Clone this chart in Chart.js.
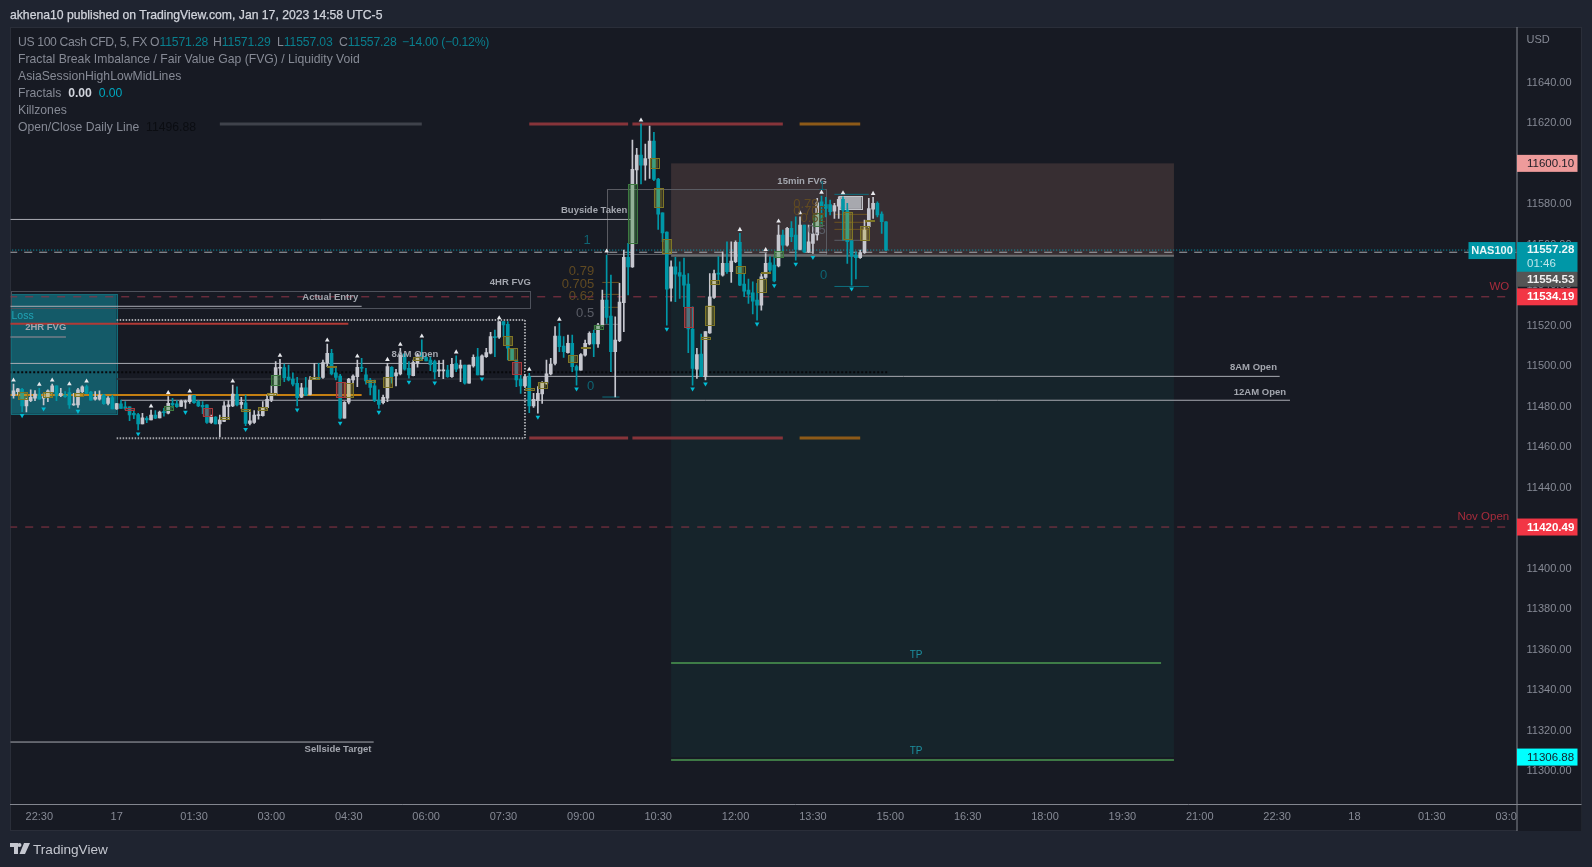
<!DOCTYPE html>
<html><head><meta charset="utf-8"><title>US 100 Cash CFD</title>
<script src="https://cdn.jsdelivr.net/npm/chart.js@4"></script>
<style>
html,body{margin:0;padding:0;width:1592px;height:867px;overflow:hidden;background:#1f2430}
canvas{position:absolute;left:0;top:0}
.t{position:absolute;white-space:pre;font-family:'Liberation Sans',sans-serif;font-size:12.2px;color:#868a95;line-height:16px}
#head{left:10px;top:7px;font-size:12.2px;color:#d1d4dc;-webkit-text-stroke:.25px #d1d4dc}
#brand{left:33px;top:841px;font-size:13.6px;color:#c4c7cf;line-height:17px}
.v{color:#097f8e;letter-spacing:-.15px}
</style></head><body>
<canvas id="c" width="1592" height="867"></canvas>
<div class="t" id="head">akhena10 published on TradingView.com, Jan 17, 2023 14:58 UTC-5</div>
<div class="t" style="left:18px;top:34px;letter-spacing:-.35px">US 100 Cash CFD, 5, FX</div>
<div class="t" style="left:150px;top:34px">O<span class="v">11571.28</span></div>
<div class="t" style="left:213px;top:34px">H<span class="v">11571.29</span></div>
<div class="t" style="left:277px;top:34px">L<span class="v">11557.03</span></div>
<div class="t" style="left:339px;top:34px">C<span class="v">11557.28</span></div>
<div class="t" style="left:402px;top:34px"><span class="v" style="letter-spacing:-.25px">−14.00 (−0.12%)</span></div>
<div class="t" style="left:18px;top:51px">Fractal Break Imbalance / Fair Value Gap (FVG) / Liquidity Void</div>
<div class="t" style="left:18px;top:68px">AsiaSessionHighLowMidLines</div>
<div class="t" style="left:18px;top:85px">Fractals  <span style="color:#d1d4dc;font-weight:bold">0.00</span>  <span style="color:#00a6bd">0.00</span></div>
<div class="t" style="left:18px;top:102px">Killzones</div>
<div class="t" style="left:18px;top:119px">Open/Close Daily Line  <span style="color:#0b0d12">11496.88</span></div>
<svg style="position:absolute;left:10px;top:843px" width="20" height="11" viewBox="0 0 20 11"><path fill="#c4c7cf" d="M0 0h8v11H4V4H0zM9.5 0a2 2 0 1 1 0 4a2 2 0 1 1 0-4zM14 0h6l-5 11H9.5z"/></svg>
<div class="t" id="brand">TradingView</div>
<script>
const firstBar = -24;
const opens = [11485.4,11487.3,11488.5,11480.3,11482.9,11484.1,11486.2,11484.1,11484.5,11487.2,
11490.2,11485.4,11485.7,11486.9,11480.8,11480.8,11487.4,11489.8,11487.2,11483.6,
11483.7,11485.7,11481.6,11484.4,11478.8,11481.3,11479.9,11479.9,11476.7,11476.0,
11471.4,11474.2,11473.4,11475.8,11474.4,11477.5,11476.7,11481.6,11481.3,11480.1,
11482.1,11482.4,11485.4,11482.4,11480.6,11480.8,11472.2,11474.8,11471.4,11472.7,
11479.9,11480.3,11486.0,11481.1,11481.8,11471.7,11472.2,11475.5,11475.5,11479.4,
11483.2,11486.2,11498.9,11499.2,11494.6,11493.6,11491.5,11484.6,11489.2,11486.0,
11493.9,11494.3,11494.4,11501.7,11506.3,11496.7,11495.1,11474.2,11482.1,11493.1,
11494.8,11499.4,11495.6,11493.1,11490.2,11482.9,11481.9,11484.1,11499.4,11495.1,
11496.1,11506.0,11498.9,11495.3,11501.3,11506.0,11504.3,11503.0,11502.2,11497.6,
11497.6,11498.0,11494.8,11501.2,11498.9,11500.5,11491.5,11500.0,11504.6,11495.6,
11504.6,11506.3,11514.2,11514.2,11521.9,11520.6,11508.8,11503.0,11493.6,11490.2,
11494.8,11480.3,11482.9,11486.2,11491.5,11496.1,11501.3,11514.8,11509.9,11506.6,
11511.2,11499.7,11498.0,11505.4,11510.9,11516.1,11510.9,11520.2,11532.6,11524.7,
11507.1,11512.5,11531.3,11553.7,11549.0,11596.8,11604.2,11599.2,11602.5,11611.1,
11592.3,11575.7,11566.2,11538.5,11549.0,11546.1,11544.9,11540.5,11518.3,11498.5,
11505.9,11494.7,11516.4,11533.9,11545.7,11544.9,11550.7,11546.6,11551.5,11561.1,
11540.5,11537.5,11536.2,11532.6,11530.1,11543.8,11551.0,11549.9,11549.4,11564.7,
11559.7,11568.0,11564.7,11557.6,11569.6,11556.4,11560.6,11564.7,11581.1,11579.8,
11579.8,11576.5,11579.0,11582.3,11577.0,11561.9,11554.8,11553.5,11556.0,11568.8,
11577.5,11580.3,11575.0,11571.28];
const closes = [11487.7,11488.7,11480.3,11483.2,11484.5,11486.2,11483.7,11484.9,11487.7,11490.2,
11485.2,11486.5,11484.9,11480.8,11481.1,11488.2,11489.7,11486.5,11483.2,11484.5,
11485.7,11481.4,11484.2,11478.8,11481.4,11479.1,11479.1,11475.8,11475.8,11471.4,
11474.4,11473.4,11475.8,11474.2,11477.3,11477.0,11481.6,11480.8,11479.9,11482.6,
11482.4,11485.4,11481.9,11480.3,11479.8,11472.2,11474.8,11471.4,11473.4,11480.3,
11480.9,11486.2,11480.8,11482.1,11471.7,11472.9,11475.8,11476.0,11479.6,11483.6,
11486.5,11499.2,11499.0,11494.3,11493.1,11491.1,11484.4,11489.2,11485.5,11493.1,
11494.4,11493.8,11501.7,11506.3,11496.1,11494.4,11474.2,11482.1,11493.6,11495.1,
11499.4,11498.9,11492.6,11489.5,11482.9,11481.1,11484.5,11499.7,11494.8,11496.7,
11505.5,11498.4,11495.6,11501.7,11505.5,11503.8,11502.5,11500.7,11497.1,11497.9,
11497.7,11494.8,11500.9,11498.4,11500.5,11491.5,11500.5,11504.3,11495.6,11505.0,
11506.6,11514.5,11514.0,11521.9,11520.3,11508.8,11503.0,11493.1,11490.2,11494.8,
11480.3,11483.6,11486.5,11491.5,11496.1,11501.0,11514.8,11509.6,11507.1,11511.2,
11499.7,11498.0,11505.7,11511.2,11516.1,11510.9,11520.2,11532.6,11524.0,11507.1,
11512.8,11531.6,11553.7,11549.0,11597.1,11604.2,11599.2,11602.5,11611.1,11592.2,
11575.0,11565.8,11538.0,11549.0,11545.4,11544.4,11540.0,11518.3,11498.8,11505.7,
11494.7,11517.0,11534.2,11545.7,11545.4,11550.7,11546.6,11551.8,11561.1,11540.0,
11537.0,11535.5,11532.1,11530.1,11544.1,11550.7,11547.4,11542.1,11564.7,11559.7,
11568.0,11563.9,11557.6,11569.6,11556.4,11561.4,11565.2,11580.6,11579.0,11577.8,
11576.2,11579.3,11582.3,11577.0,11561.4,11554.3,11553.5,11556.0,11567.2,11577.8,
11580.3,11574.6,11571.3,11557.28];
const highs = [11491.1,11489.0,11489.0,11484.0,11488.2,11487.9,11489.0,11486.5,11488.2,11491.1,
11490.2,11489.0,11487.4,11489.3,11486.5,11489.0,11490.2,11490.6,11487.5,11487.4,
11487.7,11486.0,11484.9,11485.7,11481.6,11483.2,11482.4,11479.9,11478.3,11476.7,
11476.7,11475.0,11478.3,11478.0,11477.8,11479.1,11484.9,11484.1,11482.9,11483.2,
11483.2,11485.7,11485.5,11482.9,11482.4,11480.8,11475.8,11475.0,11475.8,11482.4,
11482.9,11490.6,11489.7,11484.6,11485.7,11478.6,11478.0,11478.0,11482.4,11485.7,
11490.2,11502.2,11503.3,11501.0,11500.5,11496.7,11494.4,11491.5,11494.4,11494.8,
11501.3,11501.3,11503.0,11510.9,11508.3,11498.9,11495.9,11482.4,11493.9,11495.6,
11503.0,11503.8,11498.9,11493.9,11493.1,11488.2,11485.7,11501.3,11499.7,11498.4,
11508.8,11506.0,11502.2,11503.0,11506.3,11512.9,11505.5,11504.6,11503.0,11502.7,
11503.0,11500.4,11503.8,11505.0,11503.0,11500.5,11500.5,11505.5,11508.8,11505.5,
11508.8,11516.7,11517.8,11521.9,11521.9,11521.9,11508.8,11503.0,11495.6,11495.6,
11496.4,11486.5,11489.8,11492.3,11503.0,11503.8,11519.5,11521.1,11514.5,11515.3,
11515.3,11500.5,11506.2,11512.8,11516.9,11517.8,11521.1,11537.5,11554.8,11544.9,
11524.3,11540.8,11557.3,11560.6,11611.6,11607.5,11619.5,11609.6,11618.5,11615.4,
11592.7,11575.7,11566.3,11552.0,11553.7,11551.5,11553.3,11545.7,11529.3,11508.7,
11515.8,11517.0,11545.7,11547.4,11554.0,11556.4,11561.4,11561.4,11561.9,11565.5,
11545.7,11543.0,11541.6,11540.8,11545.7,11555.6,11554.0,11554.0,11569.6,11567.1,
11568.5,11571.3,11573.7,11573.7,11569.6,11569.6,11570.4,11582.8,11583.9,11583.3,
11582.0,11580.3,11583.6,11583.6,11580.3,11561.9,11556.4,11557.3,11572.1,11582.8,
11583.3,11581.1,11576.2,11571.29];
const lows = [11484.1,11485.7,11477.5,11477.3,11482.4,11482.9,11483.6,11480.8,11482.4,11486.5,
11482.9,11484.9,11484.5,11479.1,11480.6,11479.6,11486.5,11486.5,11483.2,11483.2,
11483.2,11481.1,11480.8,11478.8,11478.6,11479.1,11478.3,11473.0,11474.0,11468.4,
11471.4,11472.0,11473.4,11474.0,11474.4,11475.3,11476.3,11479.6,11479.6,11479.9,
11479.1,11481.6,11481.6,11479.9,11476.5,11471.7,11471.7,11471.4,11465.0,11472.5,
11473.7,11479.9,11480.3,11479.1,11470.6,11470.9,11471.7,11473.7,11475.3,11479.1,
11482.4,11485.7,11495.6,11492.3,11492.6,11490.2,11480.3,11484.4,11485.5,11485.7,
11493.8,11493.8,11493.9,11499.7,11495.6,11493.1,11473.7,11474.2,11481.3,11491.5,
11489.8,11497.2,11491.1,11485.7,11482.4,11479.1,11481.3,11482.4,11491.5,11490.2,
11495.6,11498.0,11494.0,11495.1,11499.4,11503.0,11502.5,11497.7,11493.6,11494.8,
11493.8,11494.4,11494.4,11497.2,11492.3,11491.1,11491.5,11499.4,11495.6,11495.6,
11504.3,11506.0,11504.6,11513.7,11514.5,11503.0,11503.0,11489.8,11486.5,11489.5,
11477.0,11479.6,11476.7,11481.6,11491.1,11495.6,11500.5,11507.1,11504.3,11506.3,
11497.2,11490.6,11498.0,11504.9,11510.4,11504.6,11509.2,11519.7,11521.1,11497.2,
11484.8,11512.0,11517.0,11535.1,11548.7,11589.9,11589.9,11591.8,11592.7,11591.5,
11567.5,11561.4,11520.2,11532.1,11531.8,11533.4,11529.3,11506.6,11490.6,11493.9,
11494.7,11493.1,11516.1,11533.4,11542.5,11544.4,11545.7,11541.3,11551.0,11539.7,
11534.2,11530.9,11525.7,11522.7,11527.6,11543.3,11545.7,11541.6,11549.0,11556.4,
11559.2,11561.4,11552.3,11557.3,11556.0,11556.0,11555.6,11562.2,11570.4,11573.7,
11574.6,11572.9,11572.9,11562.2,11550.7,11540.0,11543.0,11553.2,11555.6,11568.5,
11572.9,11573.7,11565.5,11557.03];

const fractalUpBars = [-24,-18,-15,-11,-7,8,12,17,27,38,49,56,63,66,71,79,89,96,103,114,122,145,151,154,159,164,169,176];
const fractalDownBars = [-22,-17,-9,5,16,30,42,52,61,68,74,85,98,107,128,134,137,149,153,158,162,171];

const tickBars = [-18,0,18,36,54,72,90,108,126,144,162,180,198,216,234,252,270,288,306,324];
const tickLabels = ["22:30","17","01:30","03:00","04:30","06:00","07:30","09:00","10:30","12:00","13:30","15:00","16:30","18:00","19:30","21:00","22:30","18","01:30","03:00"];

const levelNames = ["wo","wo","last","mark","white","grey","red2","white","white","white","daily","asiaMid","orange","white","white","tp","tp","entryLine",
 "asiaEdge","asiaEdge",
 "killGrey","killRed","killRed","killOrange","killRed","killRed","killOrange",
 "fibBrown","fibBrown","fibBrown","fibGrey","fibTeal","fibBrown","fibBrown","fibBrown","fibGrey","fibTeal","fibTeal"];
const levelStart = [-25,-25,-25,-25,-25,-25,-25,-25,95.5,1,-25,0,-25,-25,-25,129,129,129,
 0,0,
 24,96,120,158.9,96,120,158.9,
 113,113,113,113,113,167,167,167,167,167,167];
const levelEnd = [324.5,324.5,326,326,57,-11.8,53.9,76,270.6,273,179.5,95,57,120,59.8,243,246,246,
 95,95,
 71,119,155,173,119,155,173,
 117,117,117,117,117,175,175,175,175,175,175];
const levelPrice = [11534.19,11420.49,11557.28,11556.2,11529.5,11514.3,11520.9,11501.3,11494.9,11483.1,11496.88,11493.6,11485.7,11572.4,11314.3,11353.3,11305.4,11554.5,
 11522.7,11464.3,
 11619.5,11619.5,11619.5,11619.5,11464.4,11464.4,11464.4,
 11541.3,11535.4,11529.0,11520.6,11484.7,11574.9,11571.0,11567.5,11562.1,11584.8,11539.3];

// [first bar, last bar, upper price, lower price]
const stopBox = [-24.7,0,11535.6,11476.4];
const entryBox = [-24.7,96.1,11536.9,11528.5];
const asiaClose = [95,11522.7,11464.3];
const riskBox = [129,246,11600.1,11554.53];
const rewardBox = [129,246,11554.53,11306.88];
const fibBox = [114,165,11587.2,11555.3];
const whiteBox = [168,173.3,11584,11577.6];
const yellowBoxes = [[-22.9,-20.9,11487.0,11483.5],[-17.1,-14.9,11487.0,11484.7],[-9.9,-7.9,11486.5,11484.9],[24,26,11474.8,11474.0],[28.9,31,11478.6,11477.8],[33,35,11479.6,11478.0],[35,37,11486.5,11485.3],
 [45,47,11494.4,11493.6],[49,51,11500.0,11499.3],[53,55,11491.4,11484.4],[58,60,11492.9,11491.8],[62,64,11494.4,11489.3],[69,71,11504.3,11502.8],[90,92,11514.6,11510.0],[91,93,11508.7,11503.0],[95,97,11489.0,11488.2],[98,100,11492.1,11489.3],[105,107,11505.3,11501.7],[108,110,11509.4,11508.7],
 [124,126,11602.6,11597.9],[125,127,11587.7,11578.2],[127,129,11562.6,11555.6],[136,138,11514.5,11513.5],[137,139,11529.9,11520.4],[138,140,11542.3,11540.2],[144,146,11549.2,11545.6],[149,151,11543.0,11536.7],[150,152,11546.2,11545.7],[169,171,11576.2,11562.7],[173,175,11569.0,11561.9],[174,176,11571.9,11571.4]];
const greenBoxes = [[11,13,11480.3,11478.3],[36,38,11495.4,11490.6],[111,113,11520.2,11518.3],[119,121,11589.9,11560.9],[153,155,11556.6,11553.7],[162,164,11575.4,11568.8]];
const redBoxes = [[2,4,11479.3,11478.5],[20,22,11479.1,11475.0],[51,53,11492.0,11484.4],[92,94,11501.8,11496.1],[132,134,11529.0,11518.9]];

const noteTexts = ["Actual Entry","Stop Loss","2HR FVG","8AM Open","8AM Open","12AM Open","4HR FVG","Buyside Taken","15min FVG","TP","TP","Sellside Target","WO","Nov Open",
 "1","0.79","0.705","0.62","0.5","0","1","0.79","0.705","0.62","0.5","0"];
const noteBars = [49.7,-19.3,-16.5,69.4,264.5,266,91.6,111.1,159.5,186,186,51.5,324,324,
 110.3,111.1,111.1,111.1,111.1,111.1,165,163.3,165,165,165,165.3];
const notePrices = [11533.7,11524.7,11518.9,11505.6,11499.3,11487.2,11541.1,11576.7,11591,11357.3,11309.9,11310.9,11539.2,11425.5,
 11561.9,11546.6,11540.5,11534.3,11526.1,11489.8,11588.5,11580,11576.2,11572.9,11567.2,11544.6];
const noteKinds = ["note","stop","note","note","note","note","note","note","note","tp","tp","note","wo","wo",
 "fibT","fibB","fibB","fibB","fibG","fibT","fibT","fibB","fibB","fibB","fibG","fibT"];

const tagTexts = ["11600.10","11557.28","11554.53","11534.19","11420.49","11306.88"];
const tagPrices = [11600.10,11557.28,11554.53,11534.19,11420.49,11306.88];

const UP='#c6c7cf', DOWN='#0097a7', FONT="'Liberation Sans',sans-serif";
const levelStyles = {
 wo:{c:'#8f3546',w:1,d:[8,8]}, last:{c:'#00a6bd',w:1,d:[1,2]}, mark:{c:'#a6a8ad',w:1,d:[8,7]},
 grey:{c:'#5a7480',w:2,d:[]}, red2:{c:'#b23a36',w:2,d:[]}, white:{c:'#a9abb2',w:1,d:[]},
 daily:{c:'#07080b',w:2,d:[2,2]}, asiaMid:{c:'#2c2f39',w:1.5,d:[]}, orange:{c:'#c47f12',w:2,d:[]},
 asiaEdge:{c:'#a3a4a9',w:2,d:[1.5,1.5]},
 tp:{c:'#4c9a52',w:1.5,d:[]}, entryLine:{c:'#6b6b6e',w:2,d:[]},
 killGrey:{c:'#3f424b',w:3,d:[]}, killRed:{c:'#87343a',w:3,d:[]}, killOrange:{c:'#8d5a18',w:3,d:[]},
 fibBrown:{c:'#6d5222',w:1,d:[]}, fibGrey:{c:'#5a5d66',w:1,d:[]}, fibTeal:{c:'#0e6e7d',w:1,d:[]}
};
const noteStyles = {
 note:{f:"bold 9.5px "+FONT,c:'#a3a6ae',a:'center'}, stop:{f:"10.5px "+FONT,c:'#20a4b6',a:'right'},
 tp:{f:"10px "+FONT,c:'#1c8e9e',a:'center'}, wo:{f:"11.5px "+FONT,c:'#a82c3c',a:'right'},
 fibT:{f:"13px "+FONT,c:'#0e6473',a:'right'}, fibB:{f:"13px "+FONT,c:'#604a22',a:'right'}, fibG:{f:"13px "+FONT,c:'#5a5d66',a:'right'}
};
const tagStyles = [
 {bg:'#ee9b9b',fg:'#1b1d25',h:17},{bg:'#0097a7',fg:'#e8f6f8',h:30,top:8},{bg:'#555555',fg:'#f0f0f0',h:15,shift:23.6},
 {bg:'#f23645',fg:'#ffffff',h:17},{bg:'#f23645',fg:'#ffffff',h:17},{bg:'#00ffff',fg:'#14202a',h:17}
];

const bars = opens.map((_,i)=>firstBar+i);
const colours = opens.map((o,i)=>closes[i]>=o?UP:DOWN);
const levelDatasets = levelNames.map((n,i)=>({
  type:'line',order:5,pointRadius:0,tension:0,fill:false,parsing:false,
  borderColor:levelStyles[n].c,borderWidth:levelStyles[n].w,borderDash:levelStyles[n].d,
  data:[{x:levelStart[i],y:levelPrice[i]},{x:levelEnd[i],y:levelPrice[i]}]
}));
levelDatasets.push({type:'line',order:5,pointRadius:0,parsing:false,
  borderColor:levelStyles.asiaEdge.c,borderWidth:2,borderDash:levelStyles.asiaEdge.d,
  data:[{x:asiaClose[0],y:asiaClose[1]},{x:asiaClose[0],y:asiaClose[2]}]});

function boxPx(chart,b){
  const X=chart.scales.x,Y=chart.scales.y;
  const x=X.getPixelForValue(b[0]),r=X.getPixelForValue(b[1]),y=Y.getPixelForValue(b[2]),o=Y.getPixelForValue(b[3]);
  return {x:x,y:y,w:r-x,h:o-y};
}
function paintBox(ctx,chart,b,fill,stroke,lw,dash){
  const p=boxPx(chart,b);
  ctx.save();
  if(fill){ctx.fillStyle=fill;ctx.fillRect(p.x,p.y,p.w,p.h);}
  if(stroke){ctx.strokeStyle=stroke;ctx.lineWidth=lw||1;ctx.setLineDash(dash||[]);
    ctx.strokeRect(Math.round(p.x)+.5,Math.round(p.y)+.5,Math.round(p.w),Math.round(p.h));}
  ctx.restore();
}
const drawings = {
  id:'drawings',
  beforeDraw(chart){
    const c=chart.ctx;c.save();
    c.fillStyle='#171a23';c.fillRect(10,27,1572,804);
    c.strokeStyle='#2a2e39';c.lineWidth=1;c.strokeRect(10.5,27.5,1571,803);
    c.restore();
  },
  beforeDatasetsDraw(chart){
    const c=chart.ctx,a=chart.chartArea;
    c.save();c.beginPath();c.rect(a.left,a.top,a.right-a.left,a.bottom-a.top);c.clip();
    paintBox(c,chart,riskBox,'#372e32');
    paintBox(c,chart,rewardBox,'#16242b');
    paintBox(c,chart,stopBox,'#145a68','#136b78',1);
    paintBox(c,chart,entryBox,null,'#4d515b',1);
    paintBox(c,chart,fibBox,'rgba(255,255,255,.02)','#5a5b62',1);
    paintBox(c,chart,whiteBox,'#a7a8ae','#c4c5ca',1);
    c.restore();
  },
  afterDatasetsDraw(chart){
    const c=chart.ctx,a=chart.chartArea,X=chart.scales.x,Y=chart.scales.y;
    c.save();c.beginPath();c.rect(a.left,a.top,a.right-a.left,a.bottom-a.top);c.clip();
    yellowBoxes.forEach(b=>paintBox(c,chart,b,'rgba(190,170,40,.32)','#7f7626',1));
    greenBoxes.forEach(b=>paintBox(c,chart,b,'rgba(70,150,70,.40)','#3d7a40',1));
    redBoxes.forEach(b=>paintBox(c,chart,b,'rgba(200,60,60,.40)','#a83a3e',1));
    c.textBaseline='middle';
    noteTexts.forEach((t,i)=>{const s=noteStyles[noteKinds[i]];
      c.font=s.f;c.fillStyle=s.c;c.textAlign=s.a;
      c.fillText(t,X.getPixelForValue(noteBars[i]),Y.getPixelForValue(notePrices[i]));});
    c.restore();
  },
  afterDraw(chart){
    const c=chart.ctx,a=chart.chartArea,Y=chart.scales.y;
    c.save();
    c.fillStyle='#171a23';c.fillRect(a.right+.5,a.bottom+1,64.5,26);
    c.strokeStyle='#83868f';c.lineWidth=1;c.beginPath();
    c.moveTo(a.right+.5,27);c.lineTo(a.right+.5,831);
    c.moveTo(10,a.bottom+.5);c.lineTo(1581.5,a.bottom+.5);c.stroke();
    c.font="11px "+FONT;c.fillStyle='#868a95';c.textAlign='left';c.textBaseline='middle';
    c.fillText('USD',a.right+10,40);
    tagTexts.forEach((t,i)=>{
      const s=tagStyles[i],y=Y.getPixelForValue(tagPrices[i])+(s.shift||0);
      const top=s.top?y-s.top:y-s.h/2;
      c.fillStyle=s.bg;c.fillRect(a.right+.5,top,60.5,s.h);
      c.fillStyle=s.fg;c.font=(s.bg==='#ee9b9b'||s.bg==='#00ffff'?"":"bold ")+"11.5px "+FONT;
      c.fillText(t,a.right+10.5,s.top?y:y+.5);
      if(s.top){c.font="11.5px "+FONT;c.fillStyle='#bfe6ea';c.fillText('01:46',a.right+10.5,y+14);}
    });
    const ny=Y.getPixelForValue(tagPrices[1]);
    c.fillStyle='#0097a7';c.fillRect(a.right-48,ny-8,47,17);
    c.fillStyle='#e8f6f8';c.font="bold 11px "+FONT;c.textAlign='center';c.fillText('NAS100',a.right-24.5,ny+.5);
    c.restore();
  }
};

new Chart(document.getElementById('c').getContext('2d'),{
  data:{datasets:[
    ...levelDatasets,
    {type:'bar',order:3,grouped:false,barThickness:1,backgroundColor:colours,parsing:{xAxisKey:'x',yAxisKey:'y'},
     data:bars.map((k,i)=>({x:k,y:[lows[i],highs[i]]}))},
    {type:'bar',order:2,grouped:false,barThickness:3,minBarLength:1,backgroundColor:colours,parsing:{xAxisKey:'x',yAxisKey:'y'},
     data:bars.map((k,i)=>({x:k,y:[opens[i],closes[i]]}))},
    {type:'scatter',order:1,pointStyle:'triangle',pointRadius:2.7,backgroundColor:'#e8e9ed',borderWidth:0,
     data:fractalUpBars.map(k=>({x:k,y:highs[k-firstBar]+1.9}))},
    {type:'scatter',order:1,pointStyle:'triangle',rotation:180,pointRadius:2.7,backgroundColor:'#00bcd4',borderWidth:0,
     data:fractalDownBars.map(k=>({x:k,y:lows[k-firstBar]-1.9}))}
  ]},
  options:{
    responsive:false,animation:false,devicePixelRatio:1,
    layout:{padding:{left:10.5,top:27.5,right:10.5,bottom:36}},
    plugins:{legend:{display:false},tooltip:{enabled:false},title:{display:false}},
    events:[],
    scales:{
      x:{type:'linear',min:-24.7,max:325.7,offset:false,
        grid:{display:false,drawTicks:false},border:{display:false},
        afterFit(s){s.height=27;},
        afterBuildTicks(s){s.ticks=tickBars.map(v=>({value:v}));},
        ticks:{autoSkip:false,maxRotation:0,minRotation:0,color:'#868a95',font:{family:FONT,size:11},padding:6,
          callback(v){const i=tickBars.indexOf(v);return i<0?'':tickLabels[i];}}},
      y:{type:'linear',position:'right',min:11283.7,max:11667.2,
        grid:{display:false,drawTicks:false},border:{display:false},
        afterFit(s){s.width=65;},
        ticks:{stepSize:20,color:'#868a95',font:{family:FONT,size:11},padding:10,crossAlign:'near',autoSkip:false,
          callback(v){return v>=11300&&v<=11640?v.toFixed(2):'';}}}
    }
  },
  plugins:[drawings]
});
</script>
</body></html>
